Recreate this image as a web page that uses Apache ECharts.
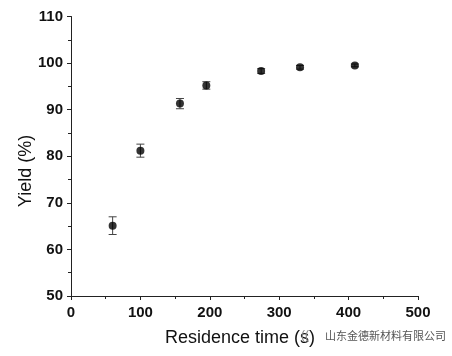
<!DOCTYPE html>
<html><head><meta charset="utf-8">
<script src="https://cdn.jsdelivr.net/npm/echarts@6/dist/echarts.min.js"></script>
<style>html,body{margin:0;padding:0;background:#fff}#c{width:452px;height:356px}</style>
</head><body><div id="c"></div>
<script>
const residenceTime = [60, 100, 157, 195, 274, 330, 409];
const yieldPct = [65.1, 81.2, 91.3, 95.2, 98.3, 99.1, 99.5];
const yieldErr = [1.9, 1.4, 1.1, 0.8, 0.5, 0.4, 0.3];
const xTicks = [0, 100, 200, 300, 400, 500];
const yTicks = [50, 60, 70, 80, 90, 100, 110];

const chart = echarts.init(document.getElementById('c'));
const pts = residenceTime.map((x, i) => [x, yieldPct[i]]);
const errs = residenceTime.map((x, i) => [x, yieldPct[i] - yieldErr[i], yieldPct[i] + yieldErr[i]]);
const FF = 'Liberation Sans, Arial, sans-serif';
const axisFont = {fontFamily: FF, fontWeight: 'bold', fontSize: 15, color: '#111'};
chart.setOption({
  animation: false,
  grid: {left: 71, right: 34, top: 16.5, bottom: 60},
  xAxis: {
    type: 'value', min: xTicks[0], max: xTicks[xTicks.length - 1], interval: 100,
    axisLine: {lineStyle: {color: '#222', width: 1}},
    axisTick: {show: true, length: 4, lineStyle: {color: '#222'}},
    minorTick: {show: true, splitNumber: 2, length: 3, lineStyle: {color: '#222'}},
    splitLine: {show: false},
    axisLabel: Object.assign({margin: 9}, axisFont)
  },
  yAxis: {
    type: 'value', min: yTicks[0], max: yTicks[yTicks.length - 1], interval: 10,
    axisLine: {show: true, lineStyle: {color: '#222', width: 1}},
    axisTick: {show: true, length: 4, lineStyle: {color: '#222'}},
    minorTick: {show: true, splitNumber: 2, length: 3, lineStyle: {color: '#222'}},
    splitLine: {show: false},
    axisLabel: Object.assign({margin: 8}, axisFont)
  },
  series: [
    {
      type: 'custom',
      data: errs,
      renderItem: function (params, api) {
        const x = api.value(0);
        const lo = api.coord([x, api.value(1)]);
        const hi = api.coord([x, api.value(2)]);
        const cap = 4;
        const st = {stroke: '#444', lineWidth: 1};
        return {type: 'group', children: [
          {type: 'line', shape: {x1: lo[0], y1: lo[1], x2: hi[0], y2: hi[1]}, style: st},
          {type: 'line', shape: {x1: lo[0] - cap, y1: lo[1], x2: lo[0] + cap, y2: lo[1]}, style: st},
          {type: 'line', shape: {x1: hi[0] - cap, y1: hi[1], x2: hi[0] + cap, y2: hi[1]}, style: st}
        ]};
      },
      z: 1
    },
    {
      type: 'scatter', data: pts, symbol: 'circle', symbolSize: 8,
      itemStyle: {color: '#000'}, z: 3
    }
  ],
  graphic: [
    {type: 'text', x: 26, y: 171, rotation: Math.PI / 2,
     style: {text: 'Yield (%)', fontFamily: FF, fontSize: 18, fill: '#111', align: 'center', verticalAlign: 'middle'}},
    {type: 'text', x: 240, y: 338,
     style: {text: 'Residence time (s)', fontFamily: FF, fontSize: 18, fill: '#111', align: 'center', verticalAlign: 'middle'}},
    {type: 'text', x: 301, y: 336,
     style: {text: '((', fontFamily: FF, fontSize: 12, fill: '#888', align: 'left', verticalAlign: 'middle'}},
    {type: 'text', x: 325, y: 336,
     style: {text: '山东金德新材料有限公司', fontFamily: 'Noto Sans CJK SC', fontSize: 11, fill: '#555', align: 'left', verticalAlign: 'middle',
             backgroundColor: 'rgba(255,255,255,0.6)'}}
  ]
});
</script></body></html>
